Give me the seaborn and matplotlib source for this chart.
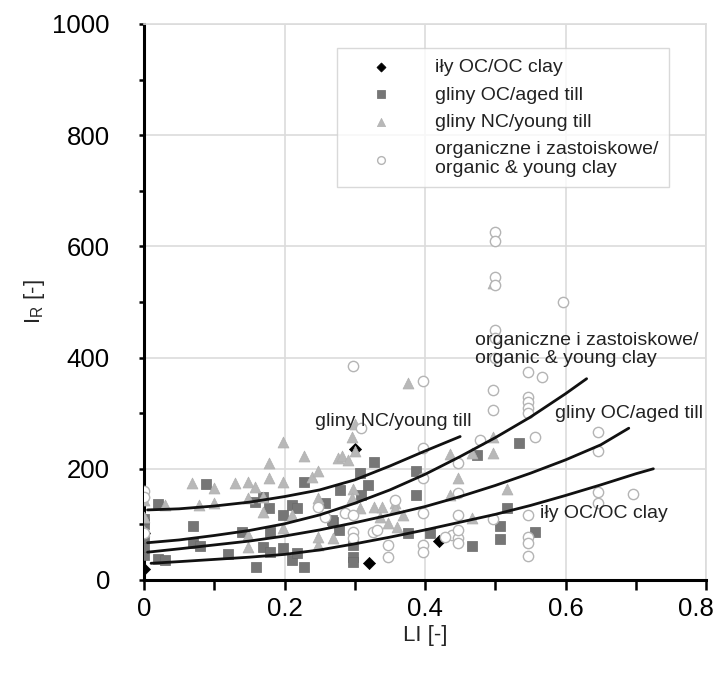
import pandas as pd
import matplotlib
matplotlib.use('Agg')
import matplotlib.pyplot as plt
from matplotlib.ticker import MultipleLocator
from matplotlib.transforms import ScaledTranslation
import seaborn as sns

# punkty pomiarowe (LI, IR)
oc_clay_x = [0, 0, 0.30, 0.32, 0.42]
oc_clay_y = [20, 85, 235, 30, 70]

aged_till_x = [0, 0, 0, 0, 0, 0.02, 0.02, 0.03, 0.07, 0.07, 0.08, 0.088, 0.12, 0.16, 0.14,
               0.158, 0.17, 0.178, 0.198, 0.21, 0.218, 0.228, 0.18, 0.17, 0.18, 0.198, 0.21,
               0.218, 0.228, 0.327, 0.307, 0.319, 0.309, 0.279, 0.387, 0.387, 0.269, 0.278,
               0.298, 0.298, 0.298, 0.467, 0.376, 0.407, 0.474, 0.534, 0.517, 0.507, 0.507,
               0.557, 0.258, 0.268]
aged_till_y = [45, 60, 75, 100, 110, 137, 38, 36, 97, 67, 61, 172, 47, 24, 86,
               140, 150, 129, 117, 135, 130, 176, 86, 60, 50, 57, 36,
               48, 24, 212, 192, 171, 153, 162, 196, 153, 104, 90,
               63, 41, 32, 61, 84, 84, 225, 246, 129, 97, 74,
               86, 138, 108]

young_till_x = [0, 0, 0, 0, 0.03, 0.068, 0.10, 0.078, 0.10, 0.13, 0.148, 0.158, 0.178, 0.178,
                0.198, 0.198, 0.228, 0.239, 0.148, 0.17, 0.17, 0.21, 0.198, 0.148, 0.148,
                0.248, 0.248, 0.376, 0.248, 0.276, 0.282, 0.296, 0.298, 0.296, 0.307, 0.327,
                0.339, 0.357, 0.357, 0.369, 0.347, 0.36, 0.248, 0.269, 0.336, 0.447, 0.467,
                0.29, 0.497, 0.497, 0.436, 0.517, 0.467, 0.436, 0.30, 0.30, 0.497]
young_till_y = [158, 144, 113, 88, 135, 174, 165, 135, 138, 174, 176, 167, 210, 183,
                248, 176, 223, 185, 147, 150, 122, 117, 93, 60, 81,
                147, 63, 355, 196, 219, 223, 257, 164, 147, 129, 131,
                131, 138, 129, 117, 102, 95, 77, 75, 113, 183, 228,
                216, 534, 228, 226, 164, 111, 153, 232, 280, 257]

organic_x = [0.297, 0.397, 0.5, 0.5, 0.5, 0.5, 0.5, 0.5, 0.5, 0.497, 0.497, 0.597, 0.547,
             0.566, 0.547, 0.547, 0.547, 0.547, 0.557, 0.478, 0.646, 0.646, 0.646, 0.646,
             0.696, 0.547, 0.547, 0.547, 0.547, 0.497, 0.447, 0.447, 0.447, 0.438, 0.447,
             0.428, 0.447, 0.447, 0.248, 0.257, 0.286, 0.298, 0.298, 0.298, 0.326, 0.347,
             0.347, 0.397, 0.397, 0.397, 0.357, 0.397, 0.397, 0.332, 0.309, 0, 0, 0]
organic_y = [385, 358, 625, 610, 545, 530, 450, 435, 400, 342, 306, 500, 374,
             365, 329, 320, 309, 300, 257, 252, 266, 232, 158, 139,
             155, 117, 77, 67, 43, 110, 210, 156, 117, 81, 75,
             78, 90, 67, 131, 113, 120, 117, 86, 76, 86, 63,
             41, 120, 63, 50, 144, 237, 183, 90, 273, 160, 150, 85]

# krzywe trendu
young_fit_x = [0.005, 0.05, 0.10, 0.15, 0.20, 0.25, 0.30, 0.35, 0.40, 0.45]
young_fit_y = [126, 128, 133, 140, 150, 162, 180, 205, 232, 258]

organic_fit_x = [0.005, 0.05, 0.10, 0.15, 0.20, 0.25, 0.30, 0.35, 0.40, 0.45, 0.50, 0.55, 0.60, 0.63]
organic_fit_y = [67, 72, 80, 89, 101, 117, 138, 162, 190, 222, 256, 293, 335, 362]

aged_fit_x = [0.005, 0.05, 0.10, 0.15, 0.20, 0.25, 0.30, 0.35, 0.40, 0.45, 0.50, 0.55, 0.60, 0.65, 0.69]
aged_fit_y = [50, 56, 63, 70, 79, 90, 103, 117, 132, 150, 170, 192, 216, 243, 273]

oc_fit_x = [0.01, 0.05, 0.10, 0.15, 0.20, 0.25, 0.30, 0.35, 0.40, 0.45, 0.50, 0.55, 0.60, 0.65, 0.70, 0.725]
oc_fit_y = [30, 33, 37, 41, 46, 54, 65, 77, 90, 104, 118, 134, 152, 171, 191, 200]

labels = ['iły OC/OC clay', 'gliny OC/aged till', 'gliny NC/young till',
          'organiczne i zastoiskowe/\norganic & young clay']
xtick_labels = ['0', '0.2', '0.4', '0.6', '0.8']

sns.set_style('white')
plt.rcParams['font.family'] = ['Liberation Sans', 'DejaVu Sans']

fig = plt.figure(figsize=(7.19, 6.74), dpi=100)
ax = fig.add_axes([0.2003, 0.1395, 0.7817, 0.8249])

sns.scatterplot(x=oc_clay_x, y=oc_clay_y, marker='D', s=38, color='black',
                edgecolor='black', linewidth=0.5, label=labels[0], ax=ax, zorder=3)
sns.scatterplot(x=aged_till_x, y=aged_till_y, marker='s', s=55, color='#767676',
                edgecolor='#6a6a6a', linewidth=0.5, label=labels[1], ax=ax, zorder=3)
sns.scatterplot(x=young_till_x, y=young_till_y, marker='^', s=62, color='#b8b8b8',
                edgecolor='#b0b0b0', linewidth=0.5, label=labels[2], ax=ax, zorder=3)
sns.scatterplot(x=organic_x, y=organic_y, marker='o', s=55, color='white',
                edgecolor='#b4b4b4', linewidth=1.0, label=labels[3], ax=ax, zorder=3)

for fx, fy in [(young_fit_x, young_fit_y), (organic_fit_x, organic_fit_y),
               (aged_fit_x, aged_fit_y), (oc_fit_x, oc_fit_y)]:
    sns.lineplot(x=fx, y=fy, color='#111111', linewidth=2.0, ax=ax, zorder=4,
                 estimator=None, sort=False)

# opisy krzywych
ax.text(0.243, 285, 'gliny NC/young till', fontsize=14, va='center', color='#222222')
ax.text(0.471, 415, 'organiczne i zastoiskowe/\norganic & young clay', fontsize=14,
        va='center', color='#222222', linespacing=1.05)
ax.text(0.585, 300, 'gliny OC/aged till', fontsize=14, va='center', color='#222222')
ax.text(0.564, 120, 'iły OC/OC clay', fontsize=14, va='center', color='#222222')

ax.set_xlim(0, 0.8)
ax.set_ylim(0, 1000)
ax.xaxis.set_minor_locator(MultipleLocator(0.1))
ax.yaxis.set_major_locator(MultipleLocator(200))
ax.yaxis.set_minor_locator(MultipleLocator(100))
ax.set_xticks([0, 0.2, 0.4, 0.6, 0.8])
ax.set_xticklabels(xtick_labels)
ax.grid(True, which='major', color='#dcdcdc', linewidth=1.2)
ax.set_axisbelow(True)

for side in ['top', 'right']:
    ax.spines[side].set_color('#dcdcdc')
    ax.spines[side].set_linewidth(1.2)
for side in ['left', 'bottom']:
    ax.spines[side].set_color('black')
    ax.spines[side].set_linewidth(2.2)

ax.tick_params(axis='x', which='both', direction='out', length=7, width=1.8,
               bottom=True, labelsize=18.5, pad=5, colors='black')
ax.tick_params(axis='y', which='both', direction='out', length=3.5, width=1.8,
               left=True, labelsize=18.5, pad=21, colors='black')

# ostatnia etykieta przesunieta w lewo, zeby sie miescila
last = ax.get_xticklabels()[-1]
last.set_transform(last.get_transform() + ScaledTranslation(-7 / 72, 0, fig.dpi_scale_trans))

ax.set_xlabel('LI [-]', fontsize=16, labelpad=3)
ax.set_ylabel('I$_\\mathregular{R}$ [-]', fontsize=16, labelpad=4)

leg = ax.legend(loc='upper left', bbox_to_anchor=(0.343, 0.957), borderaxespad=0,
                fontsize=14, frameon=True, fancybox=False, edgecolor='#d0d0d0',
                borderpad=0.55, handlelength=3.4, handletextpad=1.1,
                labelspacing=0.5, markerscale=0.75)
leg.get_frame().set_linewidth(1.0)
leg.get_texts()[3].set_linespacing(1.15)
for t in leg.get_texts():
    t.set_color('#222222')

fig.savefig('out.png', dpi=100)
